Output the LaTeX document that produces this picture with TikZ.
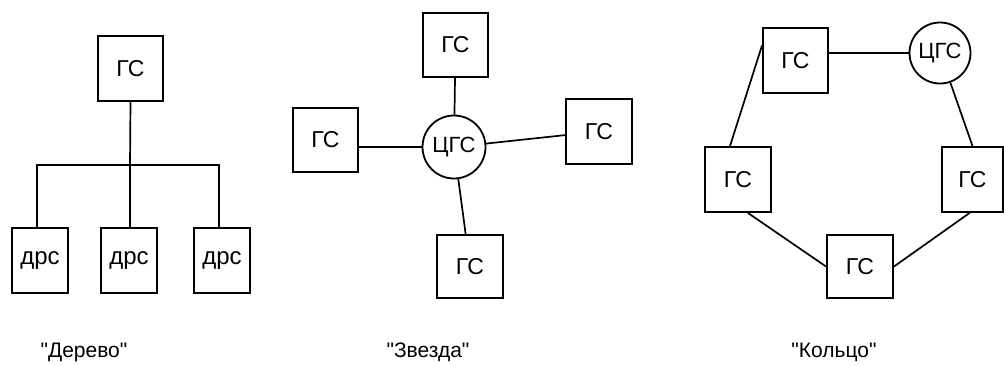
\documentclass[tikz,border=0pt]{standalone}
\usepackage{fontspec}
\setmainfont{Liberation Sans}
\begin{document}
\begin{tikzpicture}[x=1pt,y=-1pt,
  gsbox/.style={draw,line width=2pt,minimum width=65pt,minimum height=64pt,inner sep=0pt,font=\fontsize{23}{23}\selectfont},
  drsbox/.style={draw,line width=2pt,minimum width=56pt,minimum height=65pt,inner sep=0pt,font=\fontsize{24}{24}\selectfont},
  hub/.style={draw,circle,line width=1.8pt,minimum size=63pt,inner sep=0pt,font=\fontsize{22}{22}\selectfont},
  link/.style={line width=1.7pt},
  caption/.style={font=\fontsize{21}{21}\selectfont,inner sep=0pt}]
\useasboundingbox (0,0) rectangle (1004,365);
% Tree
\node[gsbox,minimum height=65pt] (g) at (130.5,68.5) {ГС};
\node[drsbox] (d1) at (40,260.5) {дрс};
\node[drsbox] (d2) at (129,260.5) {дрс};
\node[drsbox] (d3) at (222,260.5) {дрс};
\coordinate (j) at (130,165);
\draw[link] (g.south) -- (j);
\draw[link] ([xshift=-3pt]d1.north) |- (j) -| ([xshift=-3pt]d3.north);
\draw[link] (j) -- ([xshift=1pt]d2.north);
\node[caption] (cap1) at (84,352) {\textquotedbl Дерево\textquotedbl};
% Star
\node[hub] (c) at (454,147) {ЦГС};
\node[gsbox] (t) at (455.5,44.5) {ГС};
\node[gsbox] (l) at (325.5,140) {ГС};
\node[gsbox,minimum width=66pt,minimum height=65pt] (r) at (599,131.5) {ГС};
\node[gsbox,minimum width=66pt,minimum height=63pt] (b) at (470,266.5) {ГС};
\draw[link] (t) -- (c);
\draw[link] (c.west) -- (c.west -| l.east);
\draw[link] (c) -- (r);
\draw[link] (c) -- (b);
\node[caption] (cap2) at (428,352) {\textquotedbl Звезда\textquotedbl};
% Ring
\node[hub,minimum size=61pt] (c2) at (940,53) {ЦГС};
\node[gsbox,minimum height=65pt] (tl) at (795.5,60.5) {ГС};
\node[gsbox,minimum width=66pt,minimum height=65pt] (lb) at (738,179.5) {ГС};
\node[gsbox,minimum width=61pt,minimum height=65pt] (rb) at (972.5,179.5) {ГС};
\node[gsbox,minimum width=66pt,minimum height=63pt] (bb) at (860,266.5) {ГС};
\draw[link] (c2.west) -- (c2.west -| tl.east);
\draw[link] ([yshift=15pt]tl.west) -- ([xshift=-8pt]lb.north);
\draw[link] ([xshift=10pt]lb.south) -- (bb.west);
\draw[link] (bb.east) -- ([xshift=-3pt]rb.south);
\draw[link] (rb.north) -- (c2);
\node[caption] (cap3) at (834,352) {\textquotedbl Кольцо\textquotedbl};
\end{tikzpicture}
\end{document}
